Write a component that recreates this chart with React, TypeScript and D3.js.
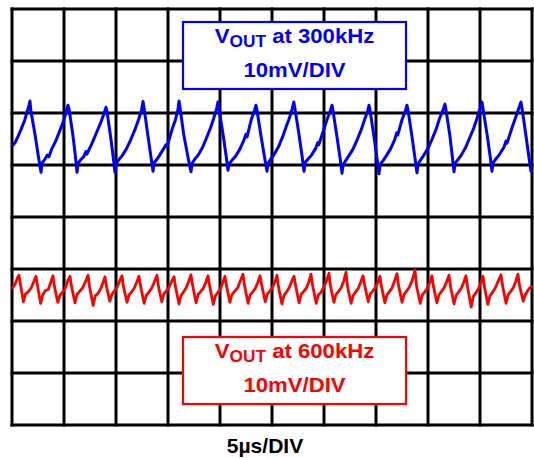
import React from "react";
import * as d3 from "d3";

// scope screen: 10 horizontal divisions of 5µs, 8 vertical divisions of 10mV
const timeTicks = [0, 5, 10, 15, 20, 25, 30, 35, 40, 45, 50];
const voltTicks = [-40, -30, -20, -10, 0, 10, 20, 30, 40];

// VOUT at 300kHz, [time µs, mV]
const vout300: [number, number][] = [
  [0, 13.6], [0.3, 14.3], [0.6, 15.6], [0.9, 17.0], [1.2, 18.5], [1.45, 20.2], [1.6, 21.2], [1.73, 22.3],
  [1.8, 20.6], [2.2, 16.0], [2.55, 11.5], [2.79, 8.6],
  [2.88, 10.4], [3.1, 10.9], [3.4, 11.9], [3.55, 11.6], [3.8, 13.0], [4.2, 14.6], [4.6, 16.6], [4.95, 18.4], [5.2, 20.2], [5.38, 21.5],
  [5.48, 20.8], [5.85, 15.8], [6.1, 11.6], [6.25, 8.6],
  [6.35, 10.3], [6.6, 11.0], [6.9, 11.6], [7.1, 12.6], [7.2, 12.1], [7.7, 14.2], [8.1, 16.1], [8.5, 18.0], [8.8, 19.6], [9.04, 21.1],
  [9.14, 20.2], [9.5, 15.2], [9.75, 11.2], [9.9, 8.6],
  [10.0, 10.2], [10.3, 11.1], [10.6, 11.8], [11.0, 13.1], [11.4, 14.8], [11.8, 16.7], [12.15, 18.6], [12.45, 20.5], [12.6, 22.2],
  [12.7, 20.9], [13.05, 15.9], [13.35, 11.7], [13.56, 8.8],
  [13.66, 10.4], [13.9, 11.0], [14.2, 11.9], [14.6, 13.2], [14.8, 13.9], [14.9, 13.5], [15.4, 16.9], [15.7, 18.6], [15.95, 20.6], [16.06, 22.3],
  [16.16, 21.0], [16.5, 16.0], [16.95, 11.2], [17.21, 8.7],
  [17.31, 10.3], [17.6, 11.2], [17.9, 11.9], [18.3, 13.3], [18.7, 15.2], [19.1, 17.2], [19.4, 19.0], [19.68, 20.9], [19.8, 22.1],
  [19.9, 20.8], [20.3, 15.8], [20.6, 11.6], [20.77, 9.0],
  [20.87, 10.2], [21.15, 10.9], [21.5, 11.7], [21.9, 13.0], [22.3, 14.8], [22.5, 15.9], [22.6, 15.4], [23.0, 18.7], [23.3, 20.4], [23.46, 21.5],
  [23.56, 20.5], [23.95, 15.5], [24.3, 11.3], [24.52, 8.8],
  [24.62, 10.3], [24.9, 11.2], [25.2, 12.0], [25.6, 13.4], [26.0, 15.3], [26.35, 17.3], [26.7, 19.2], [26.95, 20.9], [27.1, 22.1],
  [27.2, 20.9], [27.6, 15.8], [27.9, 11.6], [28.08, 8.8],
  [28.18, 10.5], [28.45, 11.1], [28.8, 11.9], [29.2, 13.2], [29.4, 14.3], [29.5, 13.9], [30.0, 17.0], [30.3, 18.8], [30.6, 20.4], [30.77, 21.5],
  [30.87, 20.4], [31.25, 15.4], [31.55, 11.3], [31.73, 8.4],
  [31.83, 10.0], [32.1, 10.9], [32.4, 11.8], [32.8, 13.1], [33.2, 14.9], [33.6, 16.9], [33.9, 18.7], [34.2, 20.4], [34.33, 21.5],
  [34.43, 20.5], [34.8, 15.5], [35.1, 11.3], [35.29, 8.3],
  [35.39, 10.1], [35.7, 10.9], [36.0, 11.8], [36.4, 13.1], [36.8, 14.9], [37.0, 16.2], [37.1, 15.8], [37.5, 18.7], [37.8, 20.3], [37.98, 21.5],
  [38.08, 20.5], [38.45, 15.6], [38.75, 11.3], [38.94, 8.5],
  [39.04, 10.2], [39.3, 11.0], [39.6, 11.9], [40.0, 13.2], [40.4, 15.0], [40.8, 17.0], [41.1, 18.9], [41.45, 20.6], [41.63, 21.7],
  [41.73, 20.6], [42.1, 15.7], [42.35, 11.4], [42.5, 8.7],
  [42.6, 10.3], [42.9, 11.1], [43.2, 11.9], [43.6, 13.3], [44.0, 15.2], [44.4, 17.1], [44.7, 18.9], [44.9, 20.3], [45.05, 21.0], [45.19, 22.1],
  [45.29, 20.8], [45.7, 15.6], [46.0, 11.3], [46.15, 8.8],
  [46.25, 10.4], [46.55, 11.2], [46.9, 12.1], [47.3, 13.4], [47.5, 14.6], [47.6, 14.2], [48.1, 17.3], [48.45, 19.3], [48.75, 21.0], [48.94, 22.1],
  [49.04, 20.9], [49.4, 15.9], [49.7, 11.6], [49.9, 8.8], [50, 9.3],
];

// VOUT at 600kHz, [time µs, mV]
const vout600: [number, number][] = [
  [0, -13.8], [0.3, -12.9], [0.55, -11.6], [0.67, -11.2],
  [0.8, -12.8], [1.1, -16.3], [1.3, -14.8], [1.55, -14.4], [1.85, -13.6], [2.1, -12.4], [2.31, -11.4],
  [2.45, -13.2], [2.75, -16.6], [2.95, -15.0], [3.2, -14.2], [3.5, -13.9], [3.75, -12.4], [3.94, -11.3],
  [4.05, -13.0], [4.4, -16.4], [4.6, -15.1], [4.85, -14.5], [5.1, -13.8], [5.35, -12.3], [5.58, -11.4],
  [5.7, -13.1], [6.05, -16.5], [6.25, -14.9], [6.5, -14.3], [6.8, -13.6], [7.05, -12.5], [7.31, -11.2],
  [7.45, -13.3], [7.8, -17.0], [8.0, -15.2], [8.3, -14.6], [8.55, -13.7], [8.75, -12.6], [8.94, -11.5],
  [9.05, -13.0], [9.4, -16.2], [9.6, -14.9], [9.85, -14.2], [10.1, -13.5], [10.35, -12.3], [10.58, -11.3],
  [10.7, -13.2], [11.05, -16.4], [11.25, -15.0], [11.5, -14.4], [11.75, -13.7], [12.0, -12.5], [12.21, -11.4],
  [12.35, -13.1], [12.7, -16.6], [12.9, -15.1], [13.15, -14.5], [13.45, -13.6], [13.7, -12.4], [13.94, -11.2],
  [14.05, -13.0], [14.4, -16.3], [14.6, -14.8], [14.85, -14.2], [15.1, -13.5], [15.35, -12.4], [15.58, -11.5],
  [15.7, -13.2], [16.05, -16.7], [16.25, -15.1], [16.5, -14.4], [16.75, -13.6], [17.0, -12.3], [17.21, -11.1],
  [17.35, -13.0], [17.7, -16.5], [17.9, -14.9], [18.15, -14.3], [18.4, -13.7], [18.65, -12.5], [18.85, -11.3],
  [19.0, -13.2], [19.35, -16.8], [19.55, -15.2], [19.8, -14.5], [20.05, -13.8], [20.3, -12.4], [20.48, -11.4],
  [20.6, -13.0], [20.95, -16.4], [21.15, -14.9], [21.4, -14.3], [21.7, -13.6], [21.95, -12.3], [22.21, -11.0],
  [22.35, -13.1], [22.7, -16.6], [22.9, -15.0], [23.15, -14.4], [23.4, -13.7], [23.65, -12.5], [23.85, -11.3],
  [24.0, -13.0], [24.35, -16.3], [24.55, -14.8], [24.8, -14.2], [25.05, -13.5], [25.3, -12.4], [25.48, -11.2],
  [25.6, -13.2], [25.95, -16.7], [26.15, -15.1], [26.4, -14.4], [26.65, -13.6], [26.9, -12.3], [27.12, -11.4],
  [27.25, -13.0], [27.6, -16.5], [27.8, -14.9], [28.05, -14.3], [28.3, -13.7], [28.55, -12.4], [28.75, -11.0],
  [28.9, -13.1], [29.25, -16.6], [29.45, -15.0], [29.7, -14.5], [29.95, -13.6], [30.2, -12.5], [30.48, -10.8],
  [30.6, -13.0], [30.95, -16.4], [31.15, -14.9], [31.4, -14.3], [31.65, -13.6], [31.9, -12.3], [32.12, -10.6],
  [32.25, -13.2], [32.6, -16.6], [32.8, -15.1], [33.05, -14.4], [33.3, -13.7], [33.55, -12.4], [33.75, -11.3],
  [33.9, -13.0], [34.25, -16.3], [34.45, -14.8], [34.7, -14.2], [34.95, -13.5], [35.2, -12.5], [35.38, -11.4],
  [35.5, -13.1], [35.85, -16.5], [36.05, -15.0], [36.3, -14.3], [36.55, -13.6], [36.8, -12.2], [37.02, -10.9],
  [37.15, -13.0], [37.5, -16.4], [37.7, -14.9], [37.95, -14.2], [38.2, -13.5], [38.5, -12.1], [38.75, -10.2],
  [38.9, -13.3], [39.25, -16.6], [39.45, -15.0], [39.7, -14.4], [39.95, -13.7], [40.2, -12.4], [40.38, -11.3],
  [40.5, -13.1], [40.85, -16.5], [41.05, -15.0], [41.3, -14.3], [41.55, -13.6], [41.8, -12.4], [42.02, -11.2],
  [42.15, -13.2], [42.5, -16.7], [42.7, -15.1], [42.95, -14.4], [43.2, -13.7], [43.45, -12.5], [43.65, -11.3],
  [43.8, -13.4], [44.15, -17.3], [44.35, -15.3], [44.6, -14.6], [44.85, -13.8], [45.1, -12.5], [45.29, -11.4],
  [45.4, -13.1], [45.75, -16.8], [45.95, -15.2], [46.2, -14.5], [46.45, -13.7], [46.75, -12.3], [47.02, -11.1],
  [47.15, -13.0], [47.5, -16.6], [47.7, -15.0], [47.95, -14.3], [48.2, -13.6], [48.45, -12.3], [48.65, -11.0],
  [48.8, -13.2], [49.15, -16.2], [49.35, -15.0], [49.6, -14.1], [49.85, -13.5], [50, -13.2],
];

const labels = {
  top: { sub: "OUT", rest: " at 300kHz", scale: "10mV/DIV" },
  bottom: { sub: "OUT", rest: " at 600kHz", scale: "10mV/DIV" },
  time: "5µs/DIV",
};

const width = 534;
const height = 458;
const font = "'Liberation Sans', Arial, Helvetica, sans-serif";

const x = d3.scaleLinear().domain([0, 50]).range([12, 532]);
const y = d3.scaleLinear().domain([-40, 40]).range([425, 9]);

const line = d3
  .line<[number, number]>()
  .x((d) => x(d[0]))
  .y((d) => y(d[1]));

// labelled box drawn on top of the graticule
const Label = ({ top, color, text }: { top: number; color: string; text: typeof labels.top }) => {
  const cx = 294.5;
  return (
    <g>
      <rect x={183} y={top} width={223} height={67} fill="white" stroke={color} strokeWidth={2.2} />
      <text
        transform={`translate(${cx},${top + 21}) scale(1.08,1)`}
        textAnchor="middle"
        fill={color}
        fontFamily={font}
        fontWeight="bold"
        fontSize={20.5}
      >
        V
        <tspan fontSize={16} dy={4}>{text.sub}</tspan>
        <tspan dy={-4}>{text.rest}</tspan>
      </text>
      <text
        transform={`translate(${cx},${top + 54.5}) scale(1.08,1)`}
        textAnchor="middle"
        fill={color}
        fontFamily={font}
        fontWeight="bold"
        fontSize={20.5}
      >
        {text.scale}
      </text>
    </g>
  );
};

export default function App() {
  return (
    <svg
      width={width}
      height={height}
      style={{ position: "absolute", left: 0, top: 0, display: "block", background: "white" }}
    >
      {/* graticule */}
      <g stroke="black" strokeWidth={3}>
        {timeTicks.map((t) => (
          <line key={"v" + t} x1={x(t)} x2={x(t)} y1={y(-40) + 1.5} y2={y(40) - 1.5} />
        ))}
        {voltTicks.map((v) => (
          <line key={"h" + v} x1={x(0) - 1.5} x2={x(50) + 1.5} y1={y(v)} y2={y(v)} />
        ))}
      </g>

      <path d={line(vout300) ?? ""} fill="none" stroke="#0000ff" strokeWidth={3} strokeLinejoin="round" />
      <path d={line(vout600) ?? ""} fill="none" stroke="#ff0000" strokeWidth={2.8} strokeLinejoin="round" />

      <Label top={22} color="#0000ff" text={labels.top} />
      <Label top={337} color="#ff0000" text={labels.bottom} />

      <text
        transform={`translate(265,453) scale(1.08,1)`}
        textAnchor="middle"
        fill="black"
        fontFamily={font}
        fontWeight="bold"
        fontSize={19.5}
      >
        {labels.time}
      </text>
    </svg>
  );
}
